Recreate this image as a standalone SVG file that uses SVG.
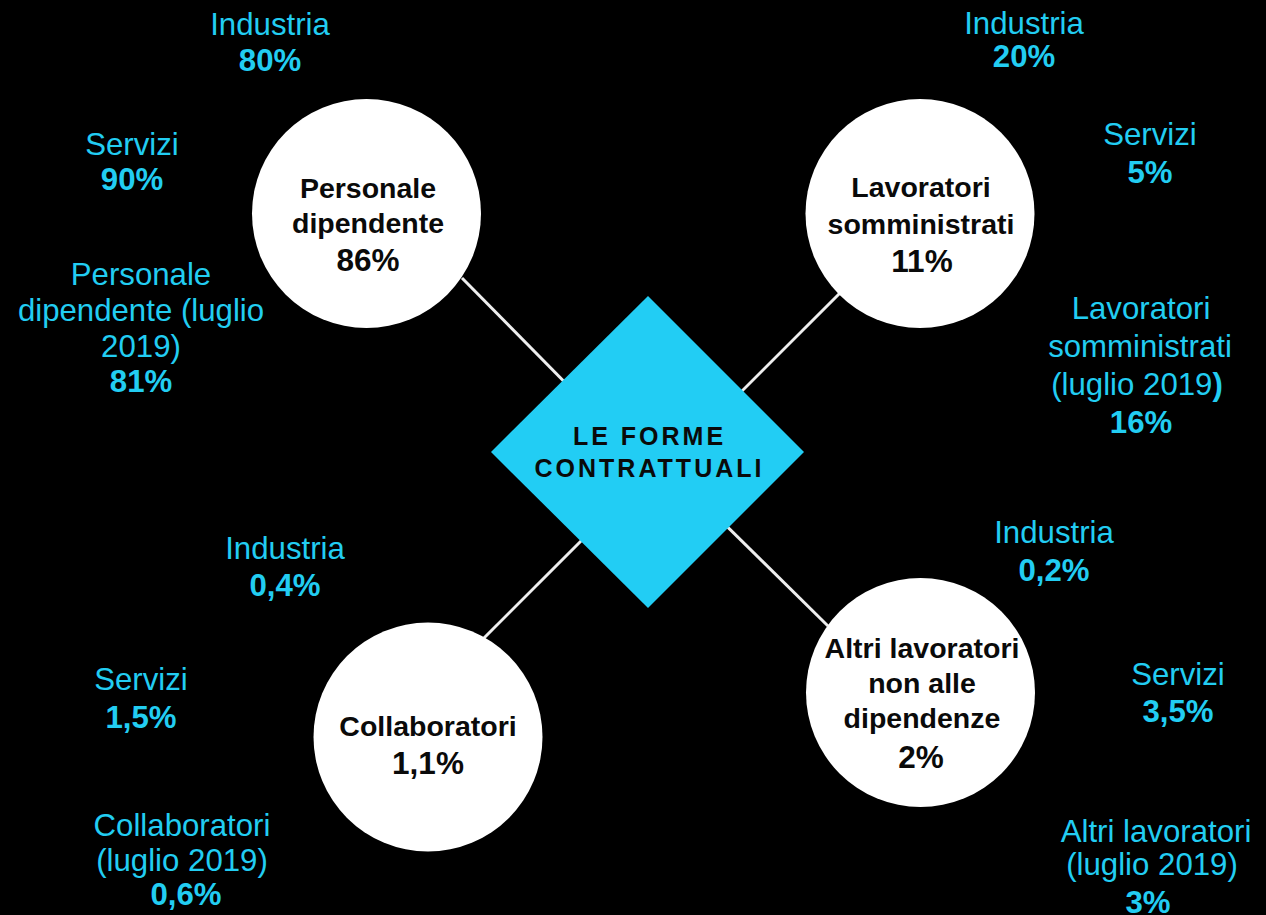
<svg xmlns="http://www.w3.org/2000/svg" width="1266" height="915" viewBox="0 0 1266 915">
<style>
.lbl{font-family:"Liberation Sans",Arial,sans-serif;font-size:31.2px;fill:#22CDF2;text-anchor:middle}
.b{font-weight:bold}
.node{fill:#ffffff}
.nt{font-family:"Liberation Sans",Arial,sans-serif;font-size:28.5px;font-weight:bold;fill:#0a0a0a;text-anchor:middle}
.np{font-size:31.5px}
.ct{font-family:"Liberation Sans",Arial,sans-serif;font-size:25px;font-weight:bold;fill:#0a0a0a;text-anchor:middle;letter-spacing:3px}
.conn{stroke:#eeeeee;stroke-width:3;fill:none}
</style>
<rect x="0" y="0" width="1266" height="915" fill="#000000"/>
<g id="connectors">
<line class="conn" x1="462" y1="278" x2="600" y2="418"/>
<line class="conn" x1="840" y1="293" x2="700" y2="433"/>
<line class="conn" x1="484" y1="638" x2="620" y2="502"/>
<line class="conn" x1="828" y1="626" x2="690" y2="490"/>
</g>
<g id="center">
<polygon points="648,296 804,452 648,608 491,452" fill="#22CDF4"/>
<text class="ct" x="649.5" y="445">LE FORME</text>
<text class="ct" x="649.5" y="477">CONTRATTUALI</text>
</g>
<g id="personale">
<circle class="node" cx="366.5" cy="213.5" r="114.5"/>
<text class="nt" x="368" y="198">Personale</text>
<text class="nt" x="368" y="233">dipendente</text>
<text class="nt np" x="368" y="271">86%</text>
</g>
<g id="somministrati">
<circle class="node" cx="920" cy="213.5" r="114.5"/>
<text class="nt" x="921" y="197">Lavoratori</text>
<text class="nt" x="921" y="234">somministrati</text>
<text class="nt np" x="922" y="272">11%</text>
</g>
<g id="collaboratori">
<circle class="node" cx="428" cy="737" r="114.5"/>
<text class="nt" x="428" y="736">Collaboratori</text>
<text class="nt np" x="428" y="774">1,1%</text>
</g>
<g id="altri">
<circle class="node" cx="920.5" cy="692.5" r="114.5"/>
<text class="nt" x="922" y="658">Altri lavoratori</text>
<text class="nt" x="922" y="693">non alle</text>
<text class="nt" x="922" y="728">dipendenze</text>
<text class="nt np" x="921" y="768">2%</text>
</g>
<g id="labels-personale">
<text class="lbl" x="270" y="35">Industria</text>
<text class="lbl b" x="270" y="71">80%</text>
<text class="lbl" x="132" y="155">Servizi</text>
<text class="lbl b" x="132" y="190">90%</text>
<text class="lbl" x="141" y="285">Personale</text>
<text class="lbl" x="141" y="321">dipendente (luglio</text>
<text class="lbl" x="141" y="357">2019)</text>
<text class="lbl b" x="141" y="392">81%</text>
</g>
<g id="labels-somministrati">
<text class="lbl" x="1024" y="34">Industria</text>
<text class="lbl b" x="1024" y="67">20%</text>
<text class="lbl" x="1150" y="145">Servizi</text>
<text class="lbl b" x="1150" y="183">5%</text>
<text class="lbl" x="1141" y="319">Lavoratori</text>
<text class="lbl" x="1140" y="357">somministrati</text>
<text class="lbl" x="1137" y="395">(luglio 2019<tspan class="b">)</tspan></text>
<text class="lbl b" x="1141" y="433">16%</text>
</g>
<g id="labels-collaboratori">
<text class="lbl" x="285" y="559">Industria</text>
<text class="lbl b" x="285" y="596">0,4%</text>
<text class="lbl" x="141" y="690">Servizi</text>
<text class="lbl b" x="141" y="728">1,5%</text>
<text class="lbl" x="182" y="836">Collaboratori</text>
<text class="lbl" x="182" y="871">(luglio 2019)</text>
<text class="lbl b" x="186" y="905">0,6%</text>
</g>
<g id="labels-altri">
<text class="lbl" x="1156" y="842">Altri lavoratori</text>
<text class="lbl" x="1152" y="875">(luglio 2019)</text>
<text class="lbl b" x="1148" y="913">3%</text>
<text class="lbl" x="1054" y="543">Industria</text>
<text class="lbl b" x="1054" y="581">0,2%</text>
<text class="lbl" x="1178" y="685">Servizi</text>
<text class="lbl b" x="1178" y="722">3,5%</text>
</g>
</svg>
